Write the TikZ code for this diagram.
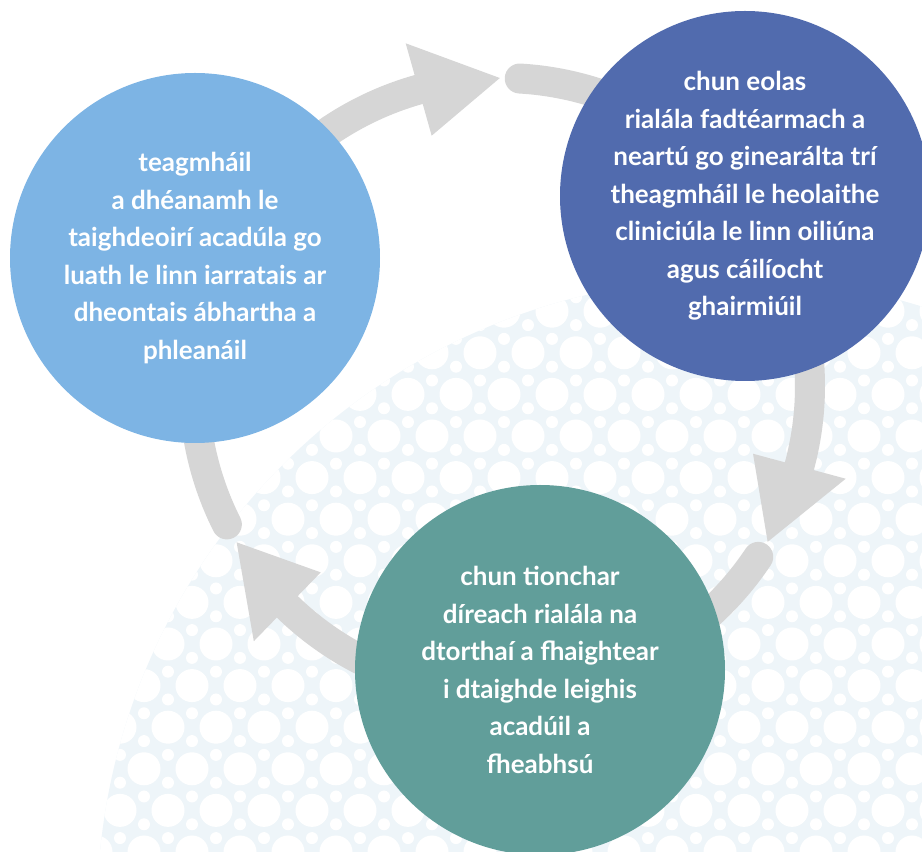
\documentclass[tikz,border=0pt]{standalone}
\usepackage{fontspec}
\setmainfont{Lato}
\usetikzlibrary{calc}
\definecolor{lblue}{HTML}{7DB4E4}
\definecolor{dblue}{HTML}{516BAE}
\definecolor{tealc}{HTML}{619E9A}
\definecolor{arrowgray}{HTML}{D6D6D6}
\definecolor{patbg}{HTML}{EEF5F9}
\begin{document}
\begin{tikzpicture}[x=1pt,y=1pt,
  bubble/.style={circle, minimum size=370pt, inner sep=0pt, text=white,
    font=\bfseries\fontsize{26}{37.5}\selectfont, align=center},
  shaft/.style={draw=arrowgray, line width=30pt, line cap=round},
  head/.style={fill=arrowgray}]
\useasboundingbox (0,0) rectangle (922,852);
% background pattern
\begin{scope}
  \clip (0,0) rectangle (922,852);
  \clip (733,-62) circle (636);
  \fill[patbg] (733,-62) circle (636);
  \foreach \i in {0,...,15} {
    \foreach \j in {0,...,20} {
      \fill[white] ({\j*48 + mod(\i,2)*24}, {\i*41.6}) circle (16.5);
      \fill[white] ({\j*48 + mod(\i,2)*24 + 24}, {\i*41.6 + 13.9}) circle (6);
      \fill[white] ({\j*48 + mod(\i,2)*24}, {\i*41.6 + 27.7}) circle (6);
    }
  }
\end{scope}
% arc arrows
\coordinate (O) at (502,466);
\draw[shaft] ($(O)+(206.7:308)$) arc[start angle=206.7, end angle=105.7, radius=308];
\fill[head] ($(O)+(105.7:356)$) -- ($(O)+(90.4:308)$) -- ($(O)+(105.7:260)$) -- cycle;
\draw[shaft] ($(O)+(86.7:308)$) arc[start angle=86.7, end angle=-15.1, radius=308];
\fill[head] ($(O)+(-15.1:356)$) -- ($(O)+(-30.4:308)$) -- ($(O)+(-15.1:260)$) -- cycle;
\draw[shaft] ($(O)+(-33.7:308)$) arc[start angle=-33.7, end angle=-134.2, radius=308];
\fill[head] ($(O)+(-134.2:356)$) -- ($(O)+(-149.5:308)$) -- ($(O)+(-134.2:260)$) -- cycle;
% circles
\node[bubble, fill=lblue] (contact) at (195,594)
  {teagmháil\\a dhéanamh le\\taighdeoirí acadúla go\\luath le linn iarratais ar\\dheontais ábhartha a\\phleanáil};
\node[bubble, fill=dblue] (knowledge) at (745,656)
  {chun eolas\\rialála fadtéarmach a\\neartú go ginearálta trí\\theagmháil le heolaithe\\cliniciúla le linn oiliúna\\agus cáilíocht\\ghairmiúil};
\node[bubble, fill=tealc] (impact) at (540,182)
  {chun tionchar\\díreach rialála na\\dtorthaí a fhaightear\\i dtaighde leighis\\acadúil a\\fheabhsú};
\end{tikzpicture}
\end{document}
